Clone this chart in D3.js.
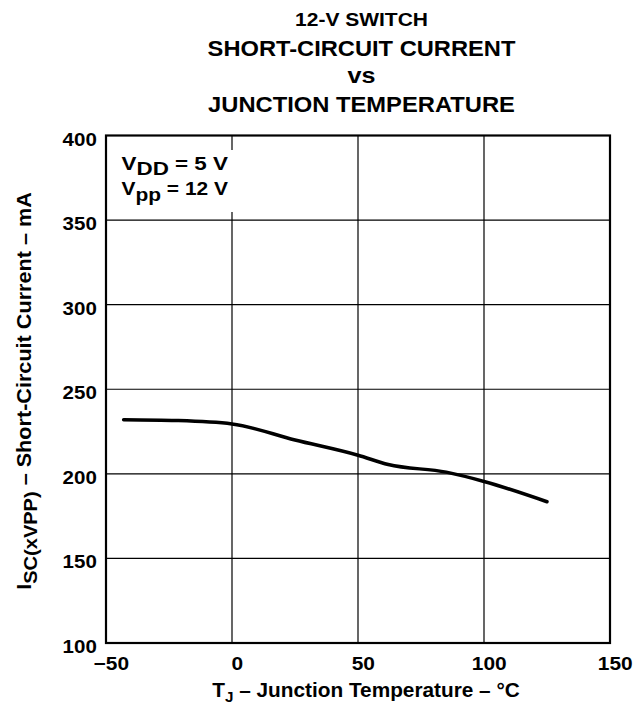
<!DOCTYPE html>
<html><head><meta charset="utf-8">
<script src="https://cdn.jsdelivr.net/npm/d3@7"></script>
<style>body{margin:0;background:#fff;}text{font-family:"Liberation Sans",Arial,sans-serif;font-weight:bold;fill:#000;}</style>
</head><body>
<script>
const temps = [-43, -22, 0, 25, 50, 62, 85, 100, 125];
const current = [232, 231.5, 229.5, 220, 211, 205.5, 201, 195.5, 183.5];
const xTicks = [-50, 0, 50, 100, 150];
const yTicks = [100, 150, 200, 250, 300, 350, 400];
const titleLines = ["12-V SWITCH", "SHORT-CIRCUIT CURRENT", "vs", "JUNCTION TEMPERATURE"];

const W = 634, H = 708;
const m = {left: 106, right: 610, top: 135.5, bottom: 643};
const svg = d3.select("body").append("svg").attr("width", W).attr("height", H);
const x = d3.scaleLinear().domain([-50, 150]).range([m.left, m.right]);
const y = d3.scaleLinear().domain([100, 400]).range([m.bottom, m.top]);

// stretch a text group horizontally to a target width (keeps its anchor point)
function fit(g, cx, cy, target, rot) {
  const w = g.node().getBBox().width;
  const s = target / w;
  g.attr("transform", `translate(${cx},${cy})${rot ? " rotate(-90)" : ""} scale(${s},1)`);
}

// grid
svg.append("g").selectAll("line").data(xTicks.slice(1, -1)).join("line")
  .attr("x1", d => x(d)).attr("x2", d => x(d)).attr("y1", m.top).attr("y2", m.bottom)
  .attr("stroke", "#000").attr("stroke-width", 1.2);
svg.append("g").selectAll("line").data(yTicks.slice(1, -1)).join("line")
  .attr("y1", d => y(d)).attr("y2", d => y(d)).attr("x1", m.left).attr("x2", m.right)
  .attr("stroke", "#000").attr("stroke-width", 1.2);

// annotation background (grid line interrupted)
svg.append("rect").attr("x", m.left + 4).attr("y", 150).attr("width", 134).attr("height", 62).attr("fill", "#fff");

// frame
svg.append("rect").attr("x", m.left).attr("y", m.top).attr("width", m.right - m.left).attr("height", m.bottom - m.top)
  .attr("fill", "none").attr("stroke", "#000").attr("stroke-width", 2.2);

// axes tick labels
const xAxis = svg.append("g").attr("transform", `translate(0,${m.bottom})`)
  .call(d3.axisBottom(x).tickValues(xTicks).tickSize(0).tickPadding(0).tickFormat(d => d < 0 ? "\u2212" + Math.abs(d) : d));
xAxis.select(".domain").remove();
xAxis.selectAll("text").attr("font-size", 19).attr("font-family", "Liberation Sans, Arial").attr("font-weight", "bold")
  .attr("fill", "#000").attr("dy", 27.5).attr("dx", 3).attr("transform", "scale(1,1)");
xAxis.selectAll(".tick text").each(function() {
  const t = d3.select(this);
  t.attr("transform", "scale(1.1,1)").attr("x", 0);
});
xAxis.selectAll(".tick").each(function(d) {
  d3.select(this).attr("transform", `translate(${x(d) + 2},0)`);
});

const yAxis = svg.append("g").attr("transform", `translate(${m.left},0)`)
  .call(d3.axisLeft(y).tickValues(yTicks).tickSize(0).tickPadding(0));
yAxis.select(".domain").remove();
yAxis.selectAll("text").attr("font-size", 19).attr("font-family", "Liberation Sans, Arial").attr("font-weight", "bold")
  .attr("fill", "#000").attr("dy", 9.5).attr("x", -8.5).attr("transform", "scale(1.08,1)");

// curve
const line = d3.line().x((d, i) => x(temps[i])).y(d => y(d)).curve(d3.curveMonotoneX);
svg.append("path").attr("d", line(current)).attr("fill", "none").attr("stroke", "#000")
  .attr("stroke-width", 3.5).attr("stroke-linecap", "round");

// title
const tBase = [26, 56, 83, 112];
const tSize = [18.5, 21.5, 21.5, 21.5];
const tWidth = [133, 308, 28, 307];
titleLines.forEach((s, i) => {
  const g = svg.append("g");
  g.append("text").attr("text-anchor", "middle").attr("font-size", tSize[i]).text(s);
  fit(g, 361.5, tBase[i], tWidth[i]);
});

// annotation
function annot(main, sub, rest, yb) {
  const g = svg.append("g");
  const t = g.append("text").attr("font-size", 18);
  t.append("tspan").text(main);
  t.append("tspan").attr("dy", 5.5).text(sub);
  t.append("tspan").attr("dy", -5.5).text(rest);
  const w = g.node().getBBox().width;
  return {g, w, yb};
}
const an1 = annot("V", "DD", " = 5 V", 169.5);
fit(an1.g, 121.5, 169.5, 106.5);
const an2 = annot("V", "pp", " = 12 V", 195);
fit(an2.g, 121.5, 195, 106.5);

// x label
{
  const g = svg.append("g");
  const t = g.append("text").attr("text-anchor", "middle").attr("font-size", 20.5);
  t.append("tspan").text("T");
  t.append("tspan").attr("dy", 5).attr("font-size", 15).text("J");
  t.append("tspan").attr("dy", -5).text(" \u2013 Junction Temperature \u2013 \u00B0C");
  fit(g, 366, 697, 308);
}

// y label
{
  const g = svg.append("g");
  const t = g.append("text").attr("text-anchor", "middle").attr("font-size", 20.5);
  t.append("tspan").text("I");
  t.append("tspan").attr("dy", 6).attr("font-size", 19).text("SC(xVPP)");
  t.append("tspan").attr("dy", -6).text(" \u2013 Short-Circuit Current \u2013 mA");
  fit(g, 31, 391, 398, true);
}
</script>
</body></html>
